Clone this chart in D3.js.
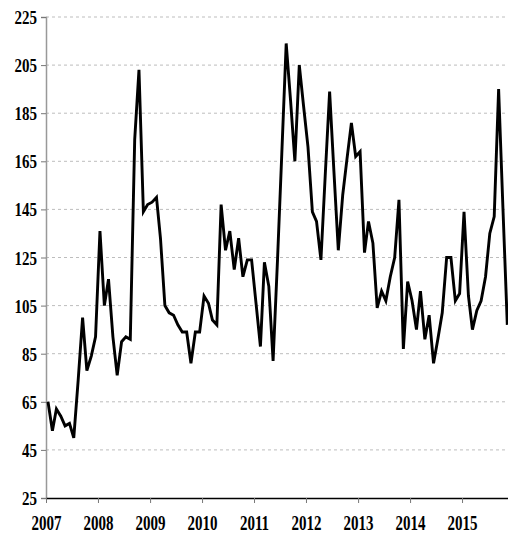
<!DOCTYPE html>
<html>
<head>
<meta charset="utf-8">
<script src="https://cdn.jsdelivr.net/npm/d3@7"></script>
<style>
  body { margin: 0; background: #fff; }
  .grid line { stroke: #bdbdbd; stroke-dasharray: 3,3; stroke-width: 1; }
  .axis text { font-family: "Liberation Serif", "Times New Roman", serif; font-weight: bold; font-size: 15px; fill: #000; }
  .line { fill: none; stroke: #000; stroke-width: 2.9; stroke-linejoin: miter; }
</style>
</head>
<body>
<div id="chart"></div>
<script>
// monthly series, Jan 2007 onward
var startYear = 2007;
var priceValues = [
  65, 53, 62, 59, 55, 56, 50, 74, 100, 78, 84, 92,
  136, 105, 116, 92, 76, 90, 92, 91, 174, 203, 144, 147,
  148, 150, 133, 105, 102, 101, 97, 94, 94, 81, 94, 94,
  109, 106, 99, 97, 147, 128, 136, 120, 133, 117, 124, 124,
  106, 88, 123, 113, 82, 124, 168, 214, 190, 165, 205, 188,
  171, 144, 140, 124, 159, 194, 161, 128, 151, 166, 181, 167,
  169, 127, 140, 131, 104, 111, 107, 117, 125, 149, 87, 115,
  107, 95, 111, 91, 101, 81, 91, 102, 125, 125, 107, 110,
  144, 109, 95, 103, 107, 117, 135, 142, 195, 146, 97
];
var yearLabels = [2007, 2008, 2009, 2010, 2011, 2012, 2013, 2014, 2015];
var yTicks = [25, 45, 65, 85, 105, 125, 145, 165, 185, 205, 225];

LineChart = function(_parentElement, _values){
  this.parentElement = _parentElement;
  this.values = _values;
  this.displayData = [];
  this.initVis();
};

LineChart.prototype.initVis = function(){
  var vis = this;

  vis.margin = { top: 17, right: 0, bottom: 40, left: 46 };
  vis.width = 508 - vis.margin.left - vis.margin.right;
  vis.height = 538 - vis.margin.top - vis.margin.bottom;

  vis.svg = d3.select("#" + vis.parentElement).append("svg")
    .attr("width", 508)
    .attr("height", 538)
    .style("display", "block")
    .append("g")
    .attr("transform", "translate(" + vis.margin.left + "," + vis.margin.top + ")");

  // one year = 52px, plot runs a little past the right edge
  vis.x = d3.scaleTime()
    .domain([new Date(startYear, 0, 1), new Date(yearLabels[yearLabels.length - 1] + 1, 0, 1)])
    .range([0, 468]);

  vis.y = d3.scaleLinear()
    .domain([yTicks[0], yTicks[yTicks.length - 1]])
    .range([vis.height, 0]);

  vis.wrangleData();
};

LineChart.prototype.wrangleData = function(){
  var vis = this;

  vis.displayData = vis.values.map(function(v, i){
    return { date: new Date(startYear, i, 15), value: v };
  });

  vis.updateVis();
};

LineChart.prototype.updateVis = function(){
  var vis = this;

  // Gridlines
  vis.svg.append("g")
    .attr("class", "grid")
    .selectAll("line")
    .data(yTicks.slice(1))
    .enter().append("line")
    .attr("x1", 0)
    .attr("x2", vis.width)
    .attr("y1", function(d){ return vis.y(d); })
    .attr("y2", function(d){ return vis.y(d); });

  // Axes
  var yAxis = vis.svg.append("g")
    .attr("class", "axis axis--y")
    .call(d3.axisLeft(vis.y).tickValues(yTicks).tickSize(5).tickPadding(4));
  yAxis.select(".domain").attr("stroke", "#999").attr("stroke-width", 1.5);
  yAxis.selectAll(".tick line").attr("stroke", "#777");
  yAxis.selectAll(".tick text")
    .attr("x", -9)
    .attr("dy", null)
    .attr("y", 0)
    .attr("transform", "scale(1,1.3) translate(0,5)");

  var xAxis = vis.svg.append("g")
    .attr("class", "axis axis--x")
    .attr("transform", "translate(0," + vis.height + ")")
    .call(d3.axisBottom(vis.x)
      .tickValues(yearLabels.map(function(y){ return new Date(y, 0, 1); }))
      .tickFormat(d3.timeFormat("%Y"))
      .tickSize(5)
      .tickSizeOuter(0));
  xAxis.select(".domain").attr("stroke", "#000").attr("stroke-width", 1.5);
  xAxis.selectAll(".tick line").attr("stroke", "#777");
  xAxis.selectAll(".tick text")
    .attr("dy", null)
    .attr("y", 0)
    .attr("transform", "scale(1,1.45) translate(0,21.8)");

  // Line
  var line = d3.line()
    .x(function(d){ return vis.x(d.date); })
    .y(function(d){ return vis.y(d.value); });

  vis.svg.append("path")
    .datum(vis.displayData)
    .attr("class", "line")
    .attr("d", line);
};

var chart = new LineChart("chart", priceValues);
</script>
</body>
</html>
